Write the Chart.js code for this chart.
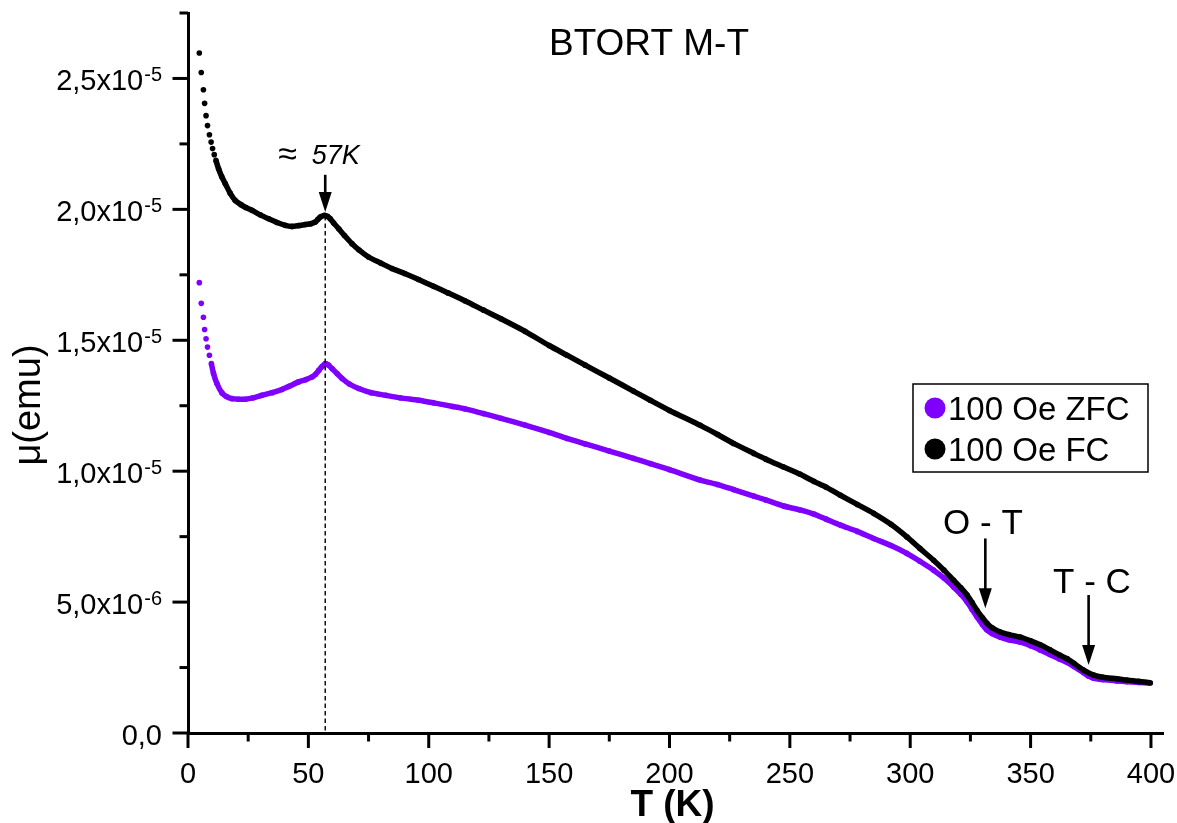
<!DOCTYPE html>
<html>
<head>
<meta charset="utf-8">
<title>BTORT M-T</title>
<script src="https://cdn.jsdelivr.net/npm/chart.js@4.4.1/dist/chart.umd.min.js"></script>
<style>
  html, body { margin: 0; padding: 0; background: #ffffff; }
  canvas { display: block; }
</style>
</head>
<body>
<canvas id="mt" width="1177" height="823"></canvas>
<script>
// ---- Measured data: temperature (K) and magnetic moment (in units of 1e-5 emu) ----
const fcTemp = [4.7, 5.5, 6.4, 6.9, 7.5, 8.1, 8.9, 9.6, 10.2, 10.9, 11.6, 12.7, 14, 15.5, 17.5, 19.6, 22, 24, 26.6, 30,
  33.5, 37, 40.4, 43.2, 46, 48.7, 51, 52.9, 54, 55, 56.7, 58, 59.1, 60.5, 62.6, 65, 68.1, 71, 75, 80,
  84.7, 90, 95.8, 102, 108, 115, 122.8, 130, 140, 150, 157.4, 165, 175, 185, 192, 200, 212.8, 220, 226.6, 235,
  240, 247.4, 254.3, 260, 265, 271, 278, 284.8, 292, 298.6, 304, 309.7, 314, 318, 321, 323.6, 325.7, 327.7, 330, 331.9,
  334, 337.4, 341, 345.7, 350, 354, 358, 362, 365.1, 368, 372, 376.2, 380, 385.9, 390, 395, 399.7];
const fcMoment = [2.597, 2.523, 2.457, 2.405, 2.358, 2.320, 2.285, 2.257, 2.232, 2.209, 2.187, 2.155, 2.125, 2.098, 2.062, 2.034, 2.018, 2.007, 1.996, 1.979,
  1.964, 1.950, 1.939, 1.935, 1.938, 1.942, 1.945, 1.952, 1.962, 1.971, 1.977, 1.973, 1.964, 1.948, 1.926, 1.900, 1.869, 1.845, 1.818, 1.795,
  1.774, 1.755, 1.732, 1.706, 1.681, 1.651, 1.615, 1.582, 1.534, 1.480, 1.443, 1.405, 1.356, 1.306, 1.271, 1.232, 1.175, 1.140, 1.106, 1.068,
  1.046, 1.016, 0.988, 0.961, 0.939, 0.908, 0.873, 0.839, 0.797, 0.749, 0.705, 0.660, 0.622, 0.584, 0.555, 0.527, 0.498, 0.469, 0.440, 0.419,
  0.402, 0.386, 0.376, 0.366, 0.352, 0.337, 0.318, 0.298, 0.284, 0.266, 0.240, 0.221, 0.213, 0.207, 0.202, 0.197, 0.192];

const zfcTemp = [4.7, 5.5, 6.4, 6.9, 7.5, 8.1, 8.9, 9.7, 10.6, 12.0, 14.1, 16, 18.3, 21, 23.8, 27, 30.7, 35, 39, 42,
  45.9, 49, 51.5, 53, 54.3, 55.7, 57, 58.4, 59.8, 62, 64, 67, 70.9, 76, 82, 88.2, 95.8, 102, 110, 115,
  122.8, 130, 140, 150, 157.4, 165, 175, 185, 192, 200, 212.8, 220, 226.6, 235, 240, 247.4, 254.3, 260, 265, 271,
  278, 284.8, 292, 298.6, 304, 309.7, 314, 318, 321, 323.6, 325.7, 327.7, 330, 331.9, 334, 337.4, 341, 345.7, 350, 354,
  358, 362, 365.1, 368, 372, 374, 376.2, 380, 385.9, 390, 395, 399.7];
const zfcMoment = [1.720, 1.641, 1.588, 1.541, 1.506, 1.474, 1.443, 1.411, 1.373, 1.335, 1.299, 1.285, 1.277, 1.275, 1.275, 1.280, 1.290, 1.300, 1.312, 1.324,
  1.341, 1.350, 1.360, 1.370, 1.385, 1.400, 1.411, 1.405, 1.392, 1.372, 1.354, 1.333, 1.316, 1.300, 1.290, 1.280, 1.271, 1.261, 1.247, 1.238,
  1.220, 1.202, 1.176, 1.148, 1.125, 1.104, 1.077, 1.049, 1.029, 1.006, 0.966, 0.949, 0.930, 0.905, 0.890, 0.867, 0.852, 0.836, 0.817, 0.794,
  0.770, 0.743, 0.716, 0.686, 0.656, 0.622, 0.592, 0.558, 0.530, 0.501, 0.472, 0.444, 0.414, 0.393, 0.380, 0.366, 0.356, 0.347, 0.333, 0.317,
  0.300, 0.283, 0.270, 0.254, 0.230, 0.218, 0.209, 0.204, 0.199, 0.196, 0.193, 0.190];

const momentUnit = 1e-5; // emu per stored unit

// ---- Series ----
const seriesLabels = ['100 Oe ZFC', '100 Oe FC'];
const seriesColors = ['#7f00ff', '#000000'];
// below these temperatures the readings are sparse and shown as separate dots
const sparseBelowT = [9.5, 11.5];

// ---- Axes ----
const xTickValues = [0, 50, 100, 150, 200, 250, 300, 350, 400];
const xTickLabels = ['0', '50', '100', '150', '200', '250', '300', '350', '400'];
const xMinorValues = [25, 75, 125, 175, 225, 275, 325, 375];
const yTickValues = [0, 0.5e-5, 1.0e-5, 1.5e-5, 2.0e-5, 2.5e-5];
const yTickBase = ['0,0', '5,0x10', '1,0x10', '1,5x10', '2,0x10', '2,5x10'];
const yTickExp = ['', '-6', '-5', '-5', '-5', '-5'];
const yMinorValues = [0.25e-5, 0.75e-5, 1.25e-5, 1.75e-5, 2.25e-5, 2.75e-5];

// ---- Annotations (T in K, moment in units of 1e-5 emu) ----
const peakT = 57;
const peakArrowMoment = [2.132, 1.990];   // arrow start, arrow tip
const peakLineTopMoment = 1.975;         // dashed guide from here to zero
const peakLabelT = [37.5, 51.4];         // "≈" and "57K" left edges
const peakLabelMoment = 2.174;
const transitionLabels = ['O - T', 'T - C'];
const transitionT = [331.2, 374.1];
const transitionLabelT = [330.2, 375.5];
const transitionLabelMoment = [0.760, 0.533];
const transitionArrowFrom = [0.743, 0.527];
const transitionArrowTo = [0.476, 0.260];

const FONT = "'Liberation Sans', Arial, Helvetica, sans-serif";
Chart.defaults.font.family = FONT;
Chart.defaults.color = '#000';

function toPoints(temps, moments) {
  return temps.map((t, i) => ({ x: t, y: moments[i] * momentUnit }));
}

function makeDataset(idx, temps, moments, order) {
  const color = seriesColors[idx];
  return {
    label: seriesLabels[idx],
    data: toPoints(temps, moments),
    showLine: true,
    order: order,
    borderColor: color,
    backgroundColor: color,
    borderWidth: 5.5,
    tension: 0.25,
    pointRadius: 2.8,
    pointBorderWidth: 0,
    pointHoverRadius: 2.8,
    pointBackgroundColor: color,
    segment: {
      borderColor: ctx => (ctx.p0.parsed.x < sparseBelowT[idx] ? 'rgba(0,0,0,0)' : color)
    }
  };
}

function arrowDown(ctx, x, y1, y2) {
  const head = 20, half = 6.5;
  ctx.beginPath();
  ctx.moveTo(x, y1);
  ctx.lineTo(x, y2 - head + 2);
  ctx.lineWidth = 2.6;
  ctx.strokeStyle = '#000';
  ctx.stroke();
  ctx.beginPath();
  ctx.moveTo(x, y2);
  ctx.lineTo(x - half, y2 - head);
  ctx.lineTo(x + half, y2 - head);
  ctx.closePath();
  ctx.fillStyle = '#000';
  ctx.fill();
}

const decorations = {
  id: 'decorations',
  afterDatasetsDraw(chart) {
    const { ctx, chartArea: area, scales: { x, y } } = chart;
    ctx.save();
    // dashed guide at the 57 K anomaly
    const px = x.getPixelForValue(peakT);
    ctx.beginPath();
    ctx.setLineDash([4.5, 3]);
    ctx.lineWidth = 1.4;
    ctx.strokeStyle = '#000';
    ctx.moveTo(px, y.getPixelForValue(peakLineTopMoment * momentUnit));
    ctx.lineTo(px, area.bottom);
    ctx.stroke();
    ctx.setLineDash([]);
    ctx.restore();
  },
  afterDraw(chart) {
    const { ctx, chartArea: area, scales: { x, y } } = chart;
    ctx.save();
    ctx.strokeStyle = '#000';
    ctx.fillStyle = '#000';
    ctx.lineWidth = 3;
    ctx.lineCap = 'butt';

    // tick marks (outward)
    const tick = (px1, py1, px2, py2) => { ctx.beginPath(); ctx.moveTo(px1, py1); ctx.lineTo(px2, py2); ctx.stroke(); };
    xTickValues.forEach(v => { const p = x.getPixelForValue(v); tick(p, area.bottom, p, area.bottom + 15); });
    xMinorValues.forEach(v => { const p = x.getPixelForValue(v); tick(p, area.bottom, p, area.bottom + 8.5); });
    yTickValues.forEach(v => { const p = y.getPixelForValue(v); tick(area.left - 15.5, p, area.left, p); });
    yMinorValues.forEach(v => { const p = y.getPixelForValue(v); tick(area.left - 8.5, p, area.left, p); });

    // x tick labels
    ctx.textBaseline = 'alphabetic';
    ctx.textAlign = 'center';
    ctx.font = `29px ${FONT}`;
    xTickValues.forEach((v, i) => ctx.fillText(xTickLabels[i], x.getPixelForValue(v), area.bottom + 50));

    // y tick labels with superscript exponents
    const labelRight = area.left - 26;
    yTickValues.forEach((v, i) => {
      const p = y.getPixelForValue(v);
      ctx.textAlign = 'right';
      let right = labelRight;
      if (yTickExp[i]) {
        ctx.font = `20px ${FONT}`;
        ctx.fillText(yTickExp[i], right, p + 3);
        right -= ctx.measureText(yTickExp[i]).width + 1;
      }
      ctx.font = `29px ${FONT}`;
      ctx.fillText(yTickBase[i], right, p + 11.5);
    });

    // chart title
    ctx.textAlign = 'center';
    ctx.font = `37px ${FONT}`;
    ctx.fillText('BTORT M-T', 649, 55);

    // axis titles
    ctx.font = `bold 37px ${FONT}`;
    ctx.fillText('T (K)', (area.left + area.right) / 2 - 3, 816);
    ctx.save();
    ctx.translate(40, (area.top + area.bottom) / 2 + 32);
    ctx.rotate(-Math.PI / 2);
    ctx.font = `38px ${FONT}`;
    ctx.fillText('\u03bc(emu)', 0, 0);
    ctx.restore();

    // 57 K anomaly marker
    const px = x.getPixelForValue(peakT);
    arrowDown(ctx, px, y.getPixelForValue(peakArrowMoment[0] * momentUnit), y.getPixelForValue(peakArrowMoment[1] * momentUnit));
    const ly = y.getPixelForValue(peakLabelMoment * momentUnit);
    ctx.textAlign = 'left';
    ctx.font = `34px ${FONT}`;
    ctx.fillText('\u2248', x.getPixelForValue(peakLabelT[0]), ly + 1);
    ctx.font = `italic 27px ${FONT}`;
    ctx.fillText('57K', x.getPixelForValue(peakLabelT[1]), ly);

    // structural transitions
    ctx.font = `35px ${FONT}`;
    ctx.textAlign = 'center';
    transitionLabels.forEach((lab, i) => {
      ctx.fillText(lab, x.getPixelForValue(transitionLabelT[i]), y.getPixelForValue(transitionLabelMoment[i] * momentUnit));
      const ax = x.getPixelForValue(transitionT[i]);
      arrowDown(ctx, ax, y.getPixelForValue(transitionArrowFrom[i] * momentUnit), y.getPixelForValue(transitionArrowTo[i] * momentUnit));
    });

    // legend box
    const boxL = area.right - 250, boxT = area.top + 371, boxW = 235, boxH = 88;
    ctx.fillStyle = '#fff';
    ctx.fillRect(boxL, boxT, boxW, boxH);
    ctx.lineWidth = 1.5;
    ctx.strokeRect(boxL, boxT, boxW, boxH);
    ctx.font = `33px ${FONT}`;
    ctx.textAlign = 'left';
    seriesLabels.forEach((lab, i) => {
      const cy = boxT + 24 + i * 41;
      ctx.beginPath();
      ctx.arc(boxL + 22, cy, 10.5, 0, Math.PI * 2);
      ctx.fillStyle = seriesColors[i];
      ctx.fill();
      ctx.fillStyle = '#000';
      ctx.fillText(lab, boxL + 35, cy + 11.5);
    });

    ctx.restore();
  }
};

new Chart(document.getElementById('mt'), {
  type: 'scatter',
  data: {
    datasets: [
      makeDataset(0, zfcTemp, zfcMoment, 2),
      makeDataset(1, fcTemp, fcMoment, 1)
    ]
  },
  options: {
    responsive: false,
    animation: false,
    events: [],
    layout: { padding: { left: 0, right: 14, top: 13, bottom: 0 } },
    plugins: { legend: { display: false }, tooltip: { enabled: false }, title: { display: false } },
    scales: {
      x: {
        type: 'linear',
        min: 0,
        max: 405,
        afterBuildTicks: s => { s.ticks = xTickValues.map(v => ({ value: v })); },
        afterFit: s => { s.height = 90; s.paddingLeft = 0; s.paddingRight = 0; },
        grid: { display: false, drawTicks: false },
        border: { display: true, width: 3, color: '#000' },
        ticks: { display: false }
      },
      y: {
        type: 'linear',
        min: 0,
        max: 2.75e-5,
        afterBuildTicks: s => { s.ticks = yTickValues.map(v => ({ value: v })); },
        afterFit: s => { s.width = 188; s.paddingTop = 0; s.paddingBottom = 0; },
        grid: { display: false, drawTicks: false },
        border: { display: true, width: 3, color: '#000' },
        ticks: { display: false }
      }
    }
  },
  plugins: [decorations]
});
</script>
</body>
</html>
